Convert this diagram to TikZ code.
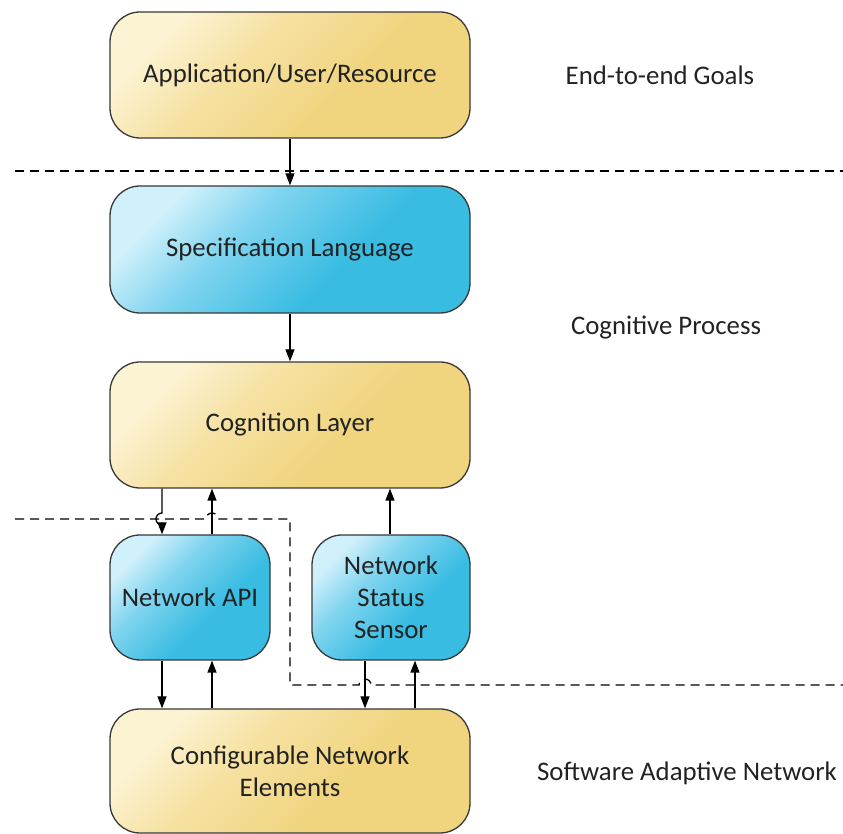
\documentclass[tikz,border=0pt]{standalone}
\usepackage{fontspec}
\setmainfont{Carlito}
\usetikzlibrary{arrows.meta,calc}
\definecolor{yelL}{HTML}{FCF3D2}
\definecolor{yelM}{HTML}{F6E2A4}
\definecolor{yelD}{HTML}{F0D47E}
\definecolor{bluL}{HTML}{D0F0FB}
\definecolor{bluM}{HTML}{80D4EF}
\definecolor{bluD}{HTML}{38BCE2}
\definecolor{edge}{HTML}{383838}
\definecolor{ink}{HTML}{222222}
% diagonal fills: light in the upper left corner, deep towards the lower right
\pgfdeclarehorizontalshading{yelsh}{100bp}{color(0bp)=(yelL); color(26bp)=(yelL); color(40bp)=(yelM); color(60bp)=(yelD); color(100bp)=(yelD)}
\pgfdeclarehorizontalshading{blush}{100bp}{color(0bp)=(bluL); color(26bp)=(bluL); color(40bp)=(bluM); color(60bp)=(bluD); color(100bp)=(bluD)}
\begin{document}
\begin{tikzpicture}[x=0.5pt,y=-0.5pt,
  box/.style={draw=edge,line width=0.65pt,rounded corners=15pt,align=center,
    font=\fontsize{13.4}{16}\selectfont,text=ink},
  yelbox/.style={box,shading=yelsh,shading angle=-45},
  blubox/.style={box,shading=blush,shading angle=-45},
  arr/.style={line width=0.65pt,-{Triangle[length=6pt,width=4.5pt]}},
  sep/.style={line width=0.65pt,dash pattern=on 4.5pt off 3pt},
  side/.style={font=\fontsize{13.4}{16}\selectfont,text=ink}]
\useasboundingbox (0,0) rectangle (843,834);

% boxes
\node[yelbox,minimum width=180pt,minimum height=63pt] (app) at (290,75) {Application/User/Resource};
\node[blubox,minimum width=180pt,minimum height=63.5pt] (spec) at (290,249.5) {Specification Language};
\node[yelbox,minimum width=180pt,minimum height=63pt] (cog) at (290,425) {Cognition Layer};
\node[blubox,minimum width=80pt,minimum height=62.5pt] (api) at (190,597.5) {Network API};
\node[blubox,minimum width=79pt,minimum height=62.5pt] (sens) at (391,597.5) {Network\\Status\\Sensor};
\node[yelbox,minimum width=180pt,minimum height=62pt] (conf) at (290,771) {Configurable Network\\Elements};

% side labels
\node[side] (l1) at (660,75) {End-to-end Goals};
\node[side] (l2) at (666,328) {Cognitive Process};
\node[side] (l3) at (687,773) {Software Adaptive Network};

% separators
\draw[sep] (15,171) -- (843,171);
\draw[sep] (15,519) -- (206,519) arc[start angle=180,end angle=360,radius=6] -- (290,519)
  -- (290,685) -- (359,685) arc[start angle=180,end angle=360,radius=6] -- (843,685);

% columns for the connectors
\coordinate (ca) at (162,0);
\coordinate (cb) at (212,0);
\coordinate (cc) at (365,0);
\coordinate (cd) at (415,0);
\coordinate (ce) at (390,0);

% connectors
\draw[arr] (app.south) -- (spec.north);
\draw[arr] (spec.south) -- (cog.north);
\draw[arr] (ca |- cog.south) -- (162,513) arc[start angle=270,end angle=90,radius=6] -- (ca |- api.north);
\draw[arr] (cb |- api.north) -- (cb |- cog.south);
\draw[arr] (ce |- sens.north) -- (ce |- cog.south);
\draw[arr] (ca |- api.south) -- (ca |- conf.north);
\draw[arr] (cb |- conf.north) -- (cb |- api.south);
\draw[arr] (cc |- sens.south) -- (cc |- conf.north);
\draw[arr] (cd |- conf.north) -- (cd |- sens.south);
\end{tikzpicture}
\end{document}
